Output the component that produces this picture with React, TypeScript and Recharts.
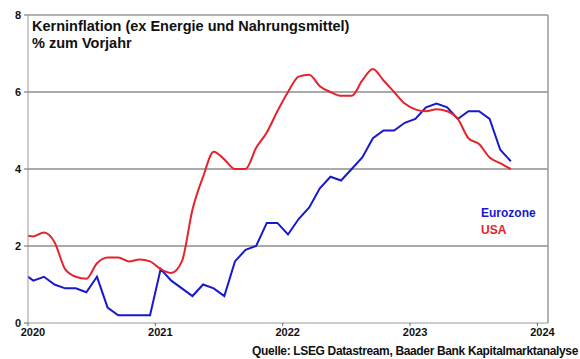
import React from 'react'
import { LineChart, Line, XAxis, YAxis, ReferenceLine } from 'recharts'

const BLUE = '#1818cc'
const RED = '#e4232a'
const GRID = '#555'
const FRAME = '#9a9a9a'
const FONT = '"Liberation Sans", Arial, sans-serif'

// monthly values, Dec 2019 .. Oct 2023
const EUROZONE = [
  1.3, 1.1, 1.2, 1.0, 0.9, 0.9, 0.8, 1.2, 0.4, 0.2, 0.2, 0.2, 0.2,
  1.4, 1.1, 0.9, 0.7, 1.0, 0.9, 0.7, 1.6, 1.9, 2.0, 2.6, 2.6,
  2.3, 2.7, 3.0, 3.5, 3.8, 3.7, 4.0, 4.3, 4.8, 5.0, 5.0, 5.2,
  5.3, 5.6, 5.7, 5.6, 5.3, 5.5, 5.5, 5.3, 4.5, 4.2,
]
const USA = [
  2.3, 2.25, 2.35, 2.1, 1.4, 1.2, 1.15, 1.55, 1.7, 1.7, 1.6, 1.65, 1.6,
  1.4, 1.3, 1.6, 2.95, 3.8, 4.45, 4.25, 4.0, 4.0, 4.55, 4.95, 5.5,
  6.0, 6.4, 6.45, 6.15, 6.0, 5.9, 5.9, 6.3, 6.6, 6.3, 6.0, 5.7,
  5.55, 5.5, 5.55, 5.5, 5.3, 4.8, 4.65, 4.3, 4.15, 4.0,
]
const YEAR_TICKS = [0, 12, 24, 36, 48]
const YEAR_LABELS = ['2020', '2021', '2022', '2023', '2024']
const Y_TICKS = [0, 2, 4, 6, 8]

// x = months since Jan 2020, points placed mid-month
const data = EUROZONE.map((ez, i) => ({ t: i - 0.5, ez, us: USA[i] }))

const tickStyle = { fontSize: 11, fontWeight: 700, fill: '#111', fontFamily: FONT }

export default function App() {
  return (
    <div style={{ position: 'absolute', left: 0, top: 0, width: 580, height: 359, background: '#fff', fontFamily: FONT }}>
      <LineChart width={580} height={359} data={data} margin={{ top: 15, right: 32, left: 0, bottom: 0 }}>
        <XAxis
          dataKey="t"
          type="number"
          domain={[0, 49]}
          allowDataOverflow
          ticks={YEAR_TICKS}
          tickFormatter={(v) => YEAR_LABELS[YEAR_TICKS.indexOf(v)]}
          tick={{ ...tickStyle, dx: 5 }}
          height={36}
          tickSize={3}
          stroke={FRAME}
          tickLine={{ stroke: '#666' }}
        />
        <YAxis
          domain={[0, 8]}
          ticks={Y_TICKS}
          width={28}
          tick={{ ...tickStyle, dx: -1 }}
          tickSize={4}
          stroke={FRAME}
          tickLine={{ stroke: '#666' }}
        />
        <ReferenceLine y={2} stroke={GRID} strokeWidth={1} />
        <ReferenceLine y={4} stroke={GRID} strokeWidth={1} />
        <ReferenceLine y={6} stroke={GRID} strokeWidth={1} />
        <ReferenceLine y={8} stroke={FRAME} strokeWidth={1.5} />
        <ReferenceLine x={49} stroke={FRAME} strokeWidth={1.5} />
        <Line type="linear" dataKey="ez" stroke={BLUE} strokeWidth={2} dot={false} isAnimationActive={false} />
        <Line type="monotone" dataKey="us" stroke={RED} strokeWidth={2} dot={false} isAnimationActive={false} />
      </LineChart>

      <div style={{ position: 'absolute', left: 32, top: 18, fontSize: 14.5, fontWeight: 700, lineHeight: '17px', color: '#111' }}>
        Kerninflation (ex Energie und Nahrungsmittel)<br />% zum Vorjahr
      </div>
      <div style={{ position: 'absolute', left: 481, top: 205, fontSize: 12, fontWeight: 700, lineHeight: '17px' }}>
        <div style={{ color: BLUE }}>Eurozone</div>
        <div style={{ color: RED }}>USA</div>
      </div>
      <div style={{ position: 'absolute', right: 2, top: 344, fontSize: 12, fontWeight: 700, letterSpacing: -0.35, color: '#111', whiteSpace: 'nowrap' }}>
        Quelle: LSEG Datastream, Baader Bank Kapitalmarktanalyse
      </div>
    </div>
  )
}
